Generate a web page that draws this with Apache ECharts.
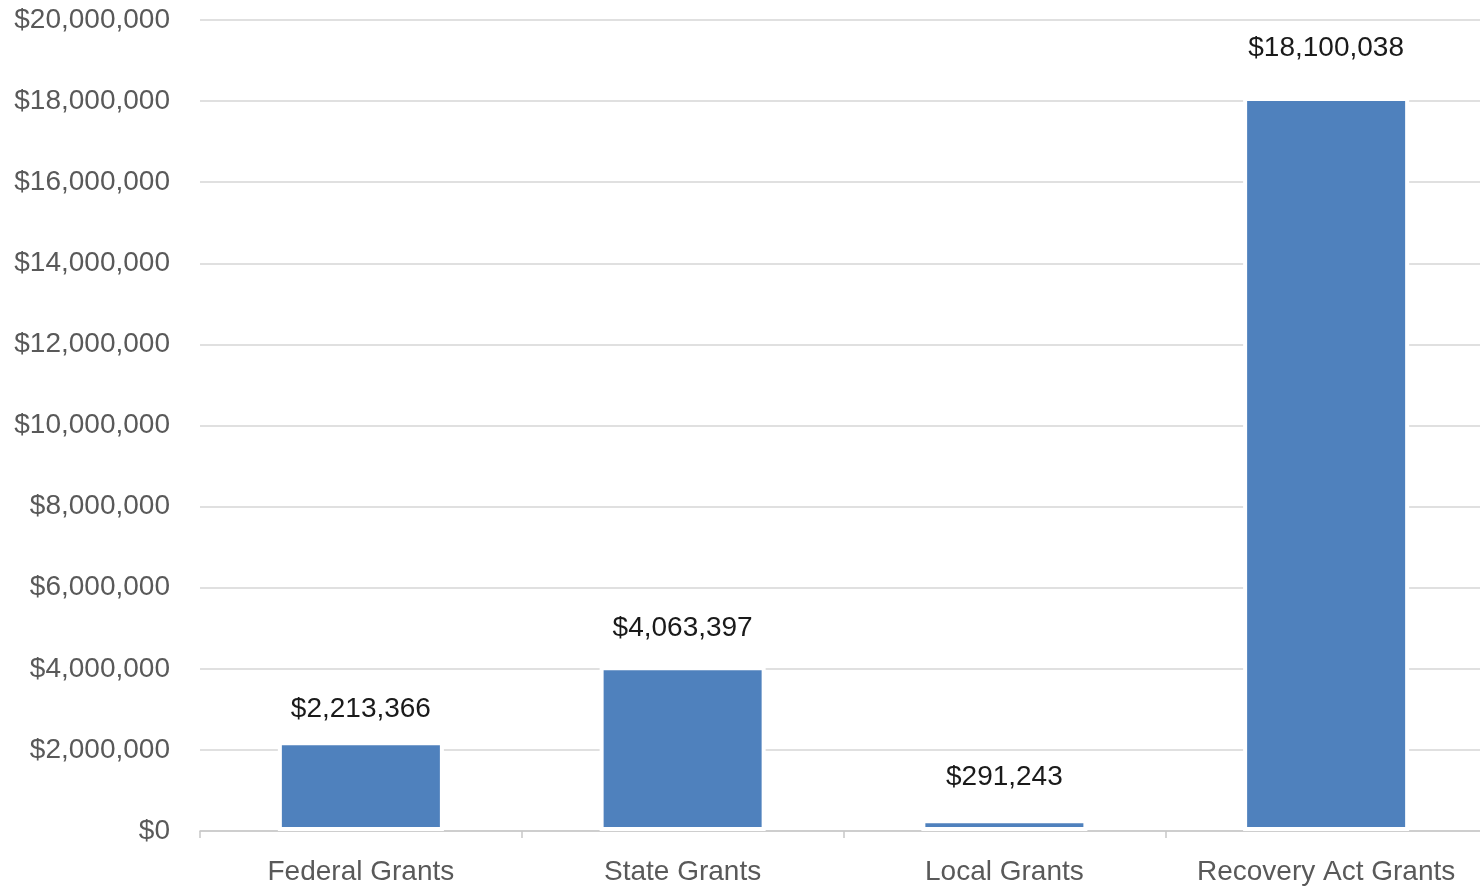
<!DOCTYPE html>
<html>
<head>
<meta charset="utf-8">
<script src="https://cdn.jsdelivr.net/npm/echarts@6/dist/echarts.min.js"></script>
<style>
  html, body { margin: 0; padding: 0; background: #ffffff; overflow: hidden; }
  /* canvas runs a few pixels past the right edge of the window */
  #chart { width: 1487px; height: 887px; }
</style>
</head>
<body>
<div id="chart"></div>
<script>
// Grant funding by source
const categories = ['Federal Grants', 'State Grants', 'Local Grants', 'Recovery Act Grants'];
const amounts = [2213366, 4063397, 291243, 18100038];
const yTicks = { min: 0, max: 20000000, interval: 2000000 };

const fontFamily = '"Liberation Sans", "Noto Sans", sans-serif';
// gap between each bar top and its value label
const labelGaps = [18, 24, 28, 35];

function money(v) {
  return '$' + Math.round(v).toString().replace(/\B(?=(\d{3})+(?!\d))/g, ',');
}

const chart = echarts.init(document.getElementById('chart'), null, { renderer: 'canvas' });

chart.setOption({
  animation: false,
  backgroundColor: '#ffffff',
  grid: { left: 200, right: 0, top: 20, bottom: 56, containLabel: false },
  xAxis: {
    type: 'category',
    data: categories,
    boundaryGap: true,
    axisLine: { show: true, lineStyle: { color: '#c8c8c8', width: 1.5 } },
    axisTick: { show: true, alignWithLabel: false, length: 7, lineStyle: { color: '#c8c8c8', width: 1.5 } },
    axisLabel: { color: '#595959', fontFamily: fontFamily, fontSize: 28, margin: 27, interval: 0, hideOverlap: false },
    splitLine: { show: false }
  },
  yAxis: {
    type: 'value',
    min: yTicks.min,
    max: yTicks.max,
    interval: yTicks.interval,
    axisLine: { show: false },
    axisTick: { show: false },
    axisLabel: {
      color: '#595959', fontFamily: fontFamily, fontSize: 28, margin: 30,
      formatter: money
    },
    splitLine: { show: true, lineStyle: { color: '#d6d6d6', width: 1.5 } }
  },
  series: [{
    type: 'bar',
    data: amounts.map((v, i) => ({ value: v, label: { distance: labelGaps[i] } })),
    barWidth: '51.6%',
    itemStyle: { color: '#4f81bd', borderColor: '#ffffff', borderWidth: 4 },
    label: {
      show: true,
      position: 'top',
      color: '#1a1a1a',
      fontFamily: fontFamily,
      fontSize: 28,
      formatter: p => money(p.value)
    }
  }]
});
</script>
</body>
</html>
